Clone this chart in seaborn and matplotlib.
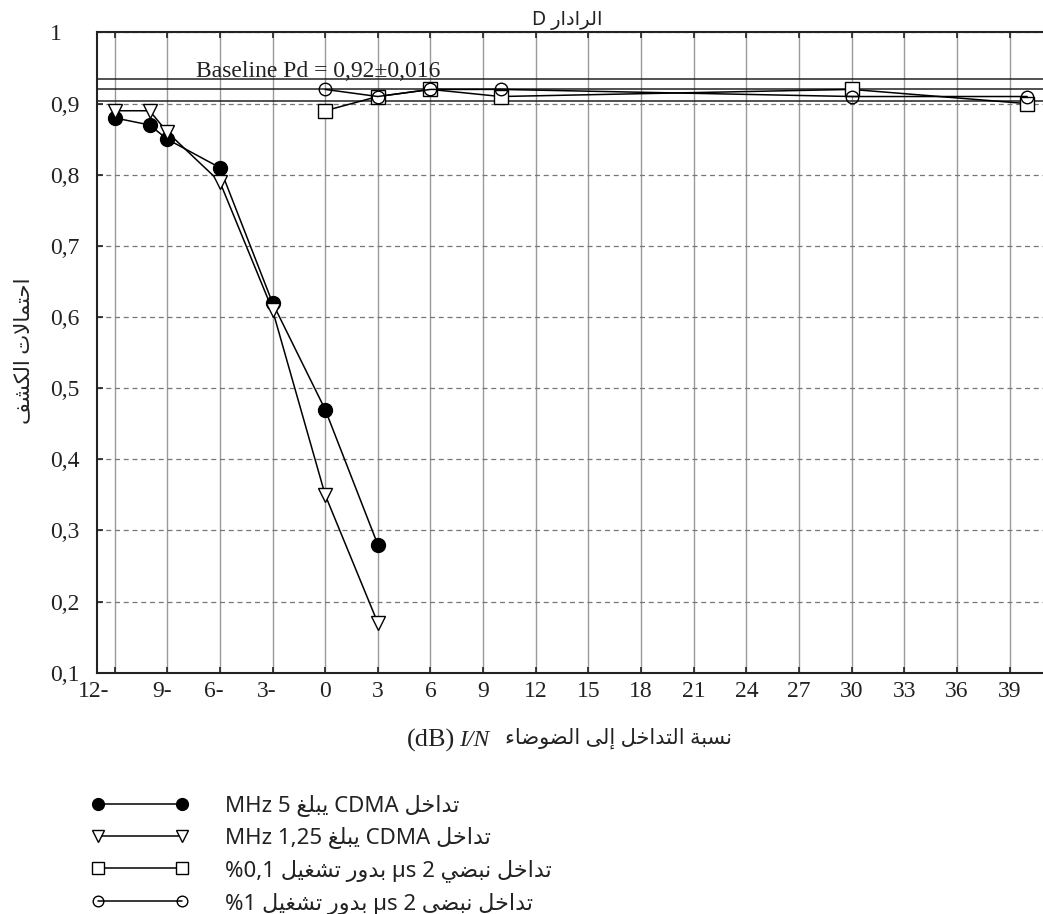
import numpy as np
import matplotlib
matplotlib.use("Agg")
import matplotlib.pyplot as plt
import matplotlib.transforms as mtransforms
import seaborn as sns

# data
x_cdma = [-12, -10, -9, -6, -3, 0, 3]
pd_cdma5 = [0.88, 0.87, 0.85, 0.81, 0.62, 0.47, 0.28]
pd_cdma125 = [0.89, 0.89, 0.86, 0.79, 0.61, 0.35, 0.17]
x_pulse = [0, 3, 6, 10, 30, 40]
pd_pulse01 = [0.89, 0.91, 0.92, 0.91, 0.92, 0.90]
pd_pulse1 = [0.92, 0.91, 0.92, 0.92, 0.91, 0.91]
baseline = 0.92
baseline_lo = 0.904
baseline_hi = 0.934

xticks = list(range(-12, 40, 3))
xtick_labels = ["12-", "9-", "6-", "3-"] + [str(v) for v in range(0, 40, 3)]
yticks = [0.1, 0.2, 0.3, 0.4, 0.5, 0.6, 0.7, 0.8, 0.9, 1.0]
ytick_labels = ["0,1", "0,2", "0,3", "0,4", "0,5", "0,6", "0,7", "0,8", "0,9", "1"]

# --- simple arabic shaping (matplotlib has no text shaping) ---
FORMS = {
    'ء': ('\uFE80', None, None, None),
    'ا': ('\uFE8D', '\uFE8E', None, None),
    'إ': ('\uFE87', '\uFE88', None, None),
    'ب': ('\uFE8F', '\uFE90', '\uFE91', '\uFE92'),
    'ة': ('\uFE93', '\uFE94', None, None),
    'ت': ('\uFE95', '\uFE96', '\uFE97', '\uFE98'),
    'ح': ('\uFEA1', '\uFEA2', '\uFEA3', '\uFEA4'),
    'خ': ('\uFEA5', '\uFEA6', '\uFEA7', '\uFEA8'),
    'د': ('\uFEA9', '\uFEAA', None, None),
    'ر': ('\uFEAD', '\uFEAE', None, None),
    'س': ('\uFEB1', '\uFEB2', '\uFEB3', '\uFEB4'),
    'ش': ('\uFEB5', '\uFEB6', '\uFEB7', '\uFEB8'),
    'ض': ('\uFEBD', '\uFEBE', '\uFEBF', '\uFEC0'),
    'غ': ('\uFECD', '\uFECE', '\uFECF', '\uFED0'),
    'ف': ('\uFED1', '\uFED2', '\uFED3', '\uFED4'),
    'ك': ('\uFED9', '\uFEDA', '\uFEDB', '\uFEDC'),
    'ل': ('\uFEDD', '\uFEDE', '\uFEDF', '\uFEE0'),
    'م': ('\uFEE1', '\uFEE2', '\uFEE3', '\uFEE4'),
    'ن': ('\uFEE5', '\uFEE6', '\uFEE7', '\uFEE8'),
    'و': ('\uFEED', '\uFEEE', None, None),
    'ى': ('\uFEEF', '\uFEF0', None, None),
    'ي': ('\uFEF1', '\uFEF2', '\uFEF3', '\uFEF4'),
}
LAM_ALEF = {'ا': ('\uFEFB', '\uFEFC'), 'إ': ('\uFEF9', '\uFEFA')}


def ar(text):
    # logical arabic -> joined presentation forms in visual (left to right) order
    out = []
    prev_joins = False
    i = 0
    while i < len(text):
        c = text[i]
        if c not in FORMS:
            out.append(c)
            prev_joins = False
            i += 1
            continue
        if c == 'ل' and i + 1 < len(text) and text[i + 1] in LAM_ALEF:
            iso, fin = LAM_ALEF[text[i + 1]]
            out.append(fin if prev_joins else iso)
            prev_joins = False
            i += 2
            continue
        f = FORMS[c]
        dual = f[2] is not None
        nxt = text[i + 1] if i + 1 < len(text) else ''
        next_joins = dual and nxt in FORMS and nxt != 'ء'
        if prev_joins and next_joins:
            g = f[3]
        elif prev_joins:
            g = f[1] or f[0]
        elif next_joins:
            g = f[2]
        else:
            g = f[0]
        out.append(g)
        prev_joins = dual
        i += 1
    return ''.join(reversed(out))


title_txt = "D " + ar("الرادار")
ylabel_txt = ar("احتمالات الكشف")
xlabel_ar = ar("نسبة التداخل إلى الضوضاء")
labels = [
    "MHz 5 " + ar("يبلغ") + " CDMA " + ar("تداخل"),
    "MHz 1,25 " + ar("يبلغ") + " CDMA " + ar("تداخل"),
    "%0,1 " + ar("بدور تشغيل") + " µs 2 " + ar("تداخل نبضي"),
    "%1 " + ar("بدور تشغيل") + " µs 2 " + ar("تداخل نبضي"),
]

sns.set_style("white")
arfont = ["Noto Sans", "DejaVu Sans"]
serif = ["Liberation Serif", "DejaVu Serif"]

fig = plt.figure(figsize=(10.43, 9.14), dpi=100)
ax = fig.add_axes([97 / 1043, 1 - 672.7 / 914, 956.5 / 1043, 640.2 / 914])

handles = []
sns.lineplot(x=x_cdma, y=pd_cdma5, ax=ax, color="black", linewidth=1.1,
             marker="o", markersize=10, markerfacecolor="black",
             markeredgecolor="black", markeredgewidth=1)
handles.append(ax.lines[-1])
sns.lineplot(x=x_cdma, y=pd_cdma125, ax=ax, color="black", linewidth=1.1,
             marker="v", markersize=10, markerfacecolor="white",
             markeredgecolor="black", markeredgewidth=1)
handles.append(ax.lines[-1])
sns.lineplot(x=x_pulse, y=pd_pulse01, ax=ax, color="black", linewidth=1.1,
             marker="s", markersize=10, markerfacecolor="white",
             markeredgecolor="black", markeredgewidth=1)
handles.append(ax.lines[-1])
sns.lineplot(x=x_pulse, y=pd_pulse1, ax=ax, color="black", linewidth=1.1,
             marker="o", markersize=9, markerfacecolor="none",
             markeredgecolor="black", markeredgewidth=1)
handles.append(ax.lines[-1])

for yv in (baseline_hi, baseline, baseline_lo):
    ax.axhline(yv, color="#222222", linewidth=1.1, zorder=1)

ax.text(-0.4, 0.9368, "Baseline Pd = 0,92±0,016", ha="center", va="baseline",
        fontsize=17, family=serif, color="#222222")

ax.set_xlim(-13, 41.5)
ax.set_ylim(0.1, 1.0)
ax.set_xticks(xticks)
ax.set_xticklabels(xtick_labels)
ax.set_yticks(yticks)
ax.set_yticklabels(ytick_labels)
ax.set_xlabel("")
ax.set_ylabel("")

ax.xaxis.grid(True, color="#999999", linewidth=1.0, linestyle="-")
ax.yaxis.grid(True, color="#777777", linewidth=0.9, linestyle=(0, (4, 3)))
ax.set_axisbelow(True)

ax.tick_params(axis="both", direction="in", length=4, width=1.2, color="#222222",
               labelsize=17, labelcolor="#222222")
ax.tick_params(axis="x", top=True, bottom=True, pad=6)
ax.tick_params(axis="y", left=True, right=False, pad=34)
for s in ("left", "top", "bottom"):
    ax.spines[s].set_color("#222222")
    ax.spines[s].set_linewidth(1.5)
ax.spines["right"].set_visible(False)

for lab in ax.get_yticklabels():
    lab.set_fontfamily(serif)
    lab.set_horizontalalignment("left")
shifts = {"12-": -15.0, "9-": -3.6, "6-": -4.0, "3-": -4.0}
for lab in ax.get_xticklabels():
    lab.set_fontfamily(serif)
    dx = shifts.get(lab.get_text(), 0)
    if dx:
        lab.set_transform(lab.get_transform() +
                          mtransforms.ScaledTranslation(dx / 72, 0, fig.dpi_scale_trans))

fig.text(567 / 1043, 1 - 20 / 914, title_txt, ha="center", va="center",
         fontsize=14, family=arfont, color="#222222")
fig.text(24 / 1043, 1 - 351 / 914, ylabel_txt, ha="center", va="center",
         rotation=90, fontsize=15.3, family=arfont, color="#222222")
fig.text(407 / 1043, 1 - 740 / 914, "(dB)", ha="left", va="center",
         fontsize=19, family=serif, color="#222222")
fig.text(459 / 1043, 1 - 740 / 914, "I/N", ha="left", va="center",
         fontsize=17, family=serif, style="italic", color="#222222")
fig.text(505 / 1043, 1 - 738 / 914, xlabel_ar, ha="left", va="center",
         fontsize=15, family=arfont, color="#222222")

if ax.get_legend() is not None:
    ax.get_legend().remove()
leg = fig.legend(handles, labels, loc="upper left",
                 bbox_to_anchor=(91 / 1043, 1 - 795 / 914),
                 bbox_transform=fig.transFigure, frameon=False,
                 numpoints=2, markerscale=0.85, handlelength=4.38,
                 handletextpad=1.64, labelspacing=0.45, borderpad=0,
                 borderaxespad=0, prop={"family": arfont, "size": 16})
for t in leg.get_texts():
    t.set_color("#222222")

fig.savefig("out.png", dpi=100)
